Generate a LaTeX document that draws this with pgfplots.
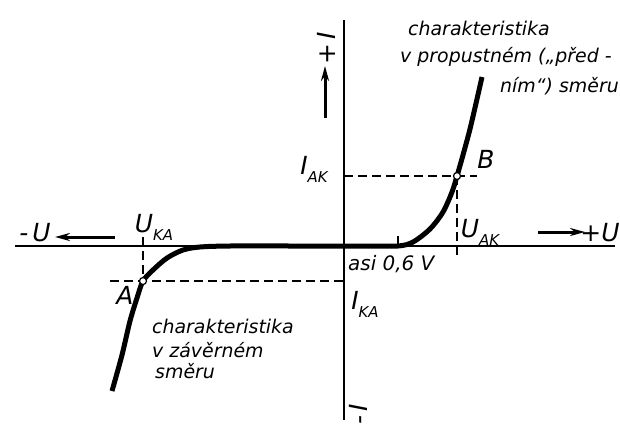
\documentclass[border=0pt]{standalone}
\usepackage{fontspec}
\setmainfont{DejaVu Sans}
\usepackage{pgfplots}
\pgfplotsset{compat=1.18}
\usetikzlibrary{arrows.meta}
\newcommand\sub[1]{\raisebox{-0.32em}{\fontsize{15}{15}\selectfont\itshape #1}}
\tikzset{
  lab/.style ={font=\fontsize{25}{28}\selectfont\itshape, inner sep=0pt},
  txt/.style ={font=\fontsize{19}{22}\selectfont\itshape, inner sep=0pt, anchor=base west},
  dsh/.style ={line width=1.3bp, dash pattern=on 9bp off 5bp},
  arr/.style ={line width=3bp, -{Stealth[length=15bp,width=8bp]}},
}
\begin{document}
\begin{tikzpicture}
\begin{axis}[
  x=1bp, y=1bp, xmin=-344, xmax=276, ymin=-179, ymax=246,
  hide axis, clip=false,
]
% frame of the picture
\addplot[draw=none] coordinates {(-344,-179) (276,246)};
% axes
\addplot[line width=1.5bp] coordinates {(-329,0) (271,0)};
\addplot[line width=1.5bp] coordinates {(0,226) (0,-174)};
% knee tick
\addplot[line width=1.5bp] coordinates {(54,0) (54,10)};
% working points
\addplot[dsh] coordinates {(0,70) (133,70)};
\addplot[dsh] coordinates {(113,70) (113,-10)};
\addplot[dsh] coordinates {(-234,-35) (0,-35)};
\addplot[dsh] coordinates {(-201,9) (-201,-35)};
% characteristic
\addplot[line width=5bp, smooth, tension=0.5] coordinates {
  (-232,-145) (-222,-109) (-214,-75) (-207,-52) (-201,-35) (-191,-24)
  (-177,-12) (-161,-4) (-144,-1) (-114,0) (-50,0) (20,0) (54,0)
  (69,4) (86,17) (99,34) (108,54) (113,70) (119,91) (126,117)
  (133,147) (138,169)
};
\addplot[only marks, mark=*, mark size=3.5bp,
  mark options={fill=white, draw=black, line width=1.2bp}]
  coordinates {(-201,-35) (113,70)};
% direction arrows
\addplot[arr] coordinates {(-229,9) (-289,9)};
\addplot[arr] coordinates {(194,14) (241,14)};
\addplot[arr] coordinates {(-19,128) (-19,180)};
% labels
\node[lab] at (axis cs:-309,13) {-\,U};
\node[lab] at (axis cs:256,13) {+U};
\node[lab, rotate=90] at (axis cs:-18,198) {+\,I};
\node[lab, rotate=90] at (axis cs:14,-168) {-\,I};
\node[lab] at (axis cs:-190,19) {U\sub{KA}};
\node[lab] at (axis cs:-219,-49) {A};
\node[lab] at (axis cs:21,-58) {I\sub{KA}};
\node[lab] at (axis cs:-30,77) {I\sub{AK}};
\node[lab] at (axis cs:142,87) {B};
\node[lab] at (axis cs:136,14) {U\sub{AK}};
\node[txt, font=\fontsize{20}{22}\selectfont\itshape] at (axis cs:4,-24) {asi 0,6 V};
\node[txt] at (axis cs:64,210) {charakteristika};
\node[txt] at (axis cs:56,184) {v propustném („před -};
\node[txt] at (axis cs:156,154) {ním“) směru};
\node[txt] at (axis cs:-192,-87) {charakteristika};
\node[txt] at (axis cs:-192,-111) {v závěrném};
\node[txt] at (axis cs:-189,-132) {směru};
\end{axis}
\end{tikzpicture}
\end{document}
